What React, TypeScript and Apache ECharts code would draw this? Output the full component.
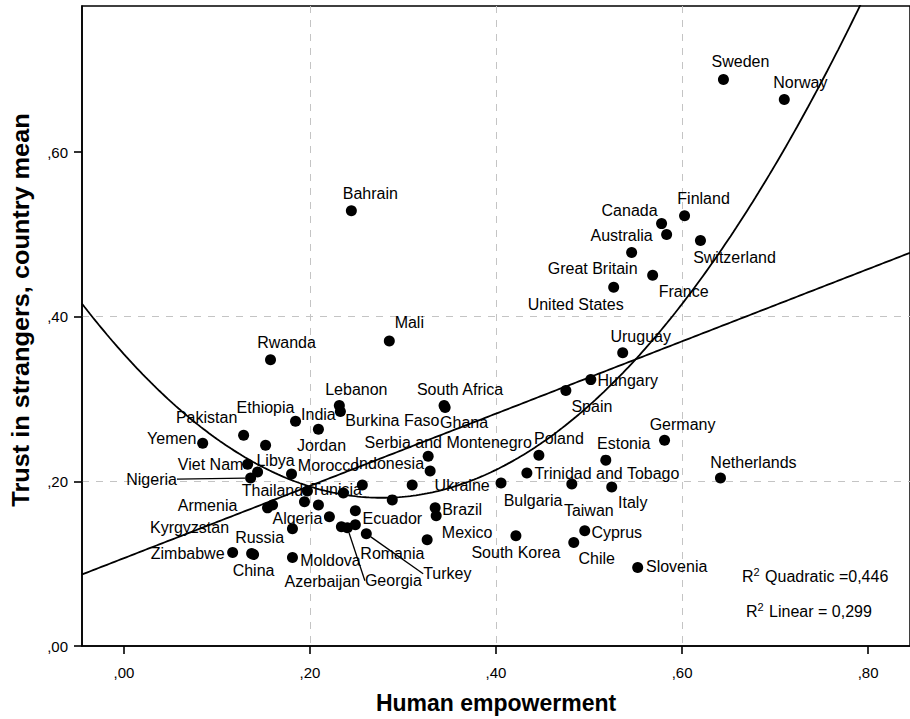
import React, { useEffect, useRef } from 'react';
import * as echarts from 'echarts';

// ---- data ----
const countries = [
  'Sweden', 'Norway', 'Bahrain', 'Finland', 'Canada', 'Australia', 'Switzerland', 'Great Britain',
  'France', 'United States', 'Uruguay', 'Hungary', 'Spain', 'Mali', 'Rwanda', 'Lebanon',
  'Burkina Faso', 'South Africa', 'Ghana', 'Ethiopia', 'India', 'Pakistan', 'Yemen', 'Jordan',
  'Viet Nam', 'Libya', 'Nigeria', 'Morocco', 'Tunisia', 'Thailand', 'Algeria', 'Ecuador',
  'Azerbaijan', 'Georgia', 'Romania', 'Turkey', 'Mexico', 'Brazil', 'Serbia and Montenegro', 'Ukraine',
  'Indonesia', 'Bulgaria', 'Poland', 'Trinidad and Tobago', 'Estonia', 'Germany', 'Netherlands', 'Taiwan',
  'Italy', 'Cyprus', 'Chile', 'South Korea', 'Slovenia', 'Armenia', 'Kyrgyzstan', 'Zimbabwe',
  'Russia', 'China', 'Moldova',
];
const empowerment = [
  0.6445, 0.7099, 0.2445, 0.6027, 0.5780, 0.5834, 0.6198, 0.5458,
  0.5684, 0.5265, 0.5362, 0.5019, 0.4751, 0.2853, 0.1576, 0.2316,
  0.2327, 0.3442, 0.3453, 0.1845, 0.2091, 0.1287, 0.0847, 0.1523,
  0.1330, 0.1437, 0.1362, 0.1802, 0.1973, 0.1941, 0.2209, 0.2488,
  0.2338, 0.2402, 0.2488, 0.2606, 0.3260, 0.3346, 0.3271, 0.3292,
  0.2563, 0.4054, 0.4461, 0.4332, 0.5180, 0.5812, 0.6413, 0.4815,
  0.5244, 0.4954, 0.4836, 0.4214, 0.5523, 0.1598, 0.1544, 0.1169,
  0.1373, 0.1394, 0.1812,
];
const trust = [
  0.6882, 0.6640, 0.5288, 0.5228, 0.5131, 0.4998, 0.4926, 0.4781,
  0.4503, 0.4358, 0.3562, 0.3236, 0.3103, 0.3706, 0.3477, 0.2922,
  0.2849, 0.2922, 0.2898, 0.2729, 0.2632, 0.2559, 0.2463, 0.2439,
  0.2209, 0.2113, 0.2040, 0.2089, 0.1883, 0.1751, 0.1569, 0.1642,
  0.1449, 0.1437, 0.1473, 0.1364, 0.1292, 0.1678, 0.2306, 0.2125,
  0.1956, 0.1980, 0.2318, 0.2101, 0.2258, 0.2499, 0.2040, 0.1968,
  0.1932, 0.1400, 0.1256, 0.1340, 0.0954, 0.1714, 0.1678, 0.1135,
  0.1123, 0.1111, 0.1074,
];
// points drawn without a label in the reference
const unlabeledEmpowerment = [0.2091, 0.2359, 0.2885, 0.3099, 0.1812, 0.3357];
const unlabeledTrust = [0.1714, 0.1859, 0.1775, 0.1956, 0.1425, 0.1582];

// fitted curves: coefficients of x^0, x^1, x^2
const linearFit = [0.1067, 0.439];
const quadraticFit = [0.3546, -1.2575, 2.265];
const rSquaredQuadratic = '0,446';
const rSquaredLinear = '0,299';

const xTicks = [0, 0.2, 0.4, 0.6, 0.8];
const yTicks = [0, 0.2, 0.4, 0.6];

const xTitle = 'Human empowerment';
const yTitle = 'Trust in strangers, country mean';

// ---- label placement (style): offset of label centre from point, px ----
const labelOffsets: Record<string, [number, number]> = {
  Sweden: [17, -18], Norway: [16, -17], Bahrain: [19, -17], Finland: [19, -17],
  Canada: [-32, -13], Australia: [-45, 1], Switzerland: [34, 17], 'Great Britain': [-39, 16],
  France: [31, 16], 'United States': [-38, 17], Uruguay: [18, -16], Hungary: [37, 1],
  Spain: [26, 16], Mali: [20, -18], Rwanda: [16, -17], Lebanon: [17, -16],
  'Burkina Faso': [52, 9], 'South Africa': [16, -16], Ghana: [19, 15], Ethiopia: [-30, -14],
  India: [0, -15], Pakistan: [-37, -18], Yemen: [-31, -5], Jordan: [56, 0],
  'Viet Nam': [-37, 0], Libya: [18, -12], Nigeria: [-99, 1], Morocco: [37, -9],
  Tunisia: [29, -1], Thailand: [-32, -11], Algeria: [-32, 2], Ecuador: [37, 8],
  Azerbaijan: [-19, 55], Georgia: [46, 53], Romania: [37, 29], Turkey: [81, 40],
  Mexico: [40, -7], Brazil: [27, 2], 'Serbia and Montenegro': [20, -14], Ukraine: [32, 14],
  Indonesia: [27, -21], Bulgaria: [32, 17], Poland: [20, -17], 'Trinidad and Tobago': [80, 0],
  Estonia: [18, -17], Germany: [18, -16], Netherlands: [33, -16], Taiwan: [17, 27],
  Italy: [21, 16], Cyprus: [32, 2], Chile: [23, 16], 'South Korea': [0, 17],
  Slovenia: [39, -1], Armenia: [-65, 1], Kyrgyzstan: [-78, 20], Zimbabwe: [-45, 1],
  Russia: [8, -16], China: [0, 16], Moldova: [38, 3],
};
const leaderLines = ['Nigeria', 'Georgia', 'Turkey'];

const X_MIN = -0.04504;
const X_MAX = 0.84504;
const Y_MIN = 0;
const Y_MAX = 0.77747;

const FONT = '"Liberation Sans", Arial, sans-serif';
const fmt = (v: number) => v.toFixed(2).replace(/^0/, '').replace('.', ',');

function curve(coef: number[]) {
  const pts: number[][] = [];
  const n = 300;
  for (let i = 0; i <= n; i++) {
    const x = X_MIN + ((X_MAX - X_MIN) * i) / n;
    let y = 0;
    coef.forEach((c, k) => { y += c * Math.pow(x, k); });
    pts.push([x, y]);
  }
  return pts;
}

export default function App() {
  const ref = useRef<HTMLDivElement>(null);
  useEffect(() => {
    if (!ref.current) return;
    const chart = echarts.init(ref.current, null, { renderer: 'svg' });
    const labeled = countries.map((name, i) => {
      const item: any = { name, value: [empowerment[i], trust[i]] };
      if (leaderLines.includes(name)) {
        item.labelLine = { show: true, lineStyle: { color: '#000', width: 1.3 } };
      }
      return item;
    });
    const unlabeled = unlabeledEmpowerment.map((x, i) => [x, unlabeledTrust[i]]);
    const supText = (label: string, val: string) => `{r|R}{s|2}{r| ${label}${val}}`;
    const rich = {
      r: { fontSize: 16, fontFamily: FONT, color: '#000' },
      s: { fontSize: 11, fontFamily: FONT, color: '#000', padding: [0, 1, 9, 0] },
    };
    const splitLine = {
      show: true, showMinLine: false, showMaxLine: false,
      lineStyle: { color: '#c4c4c4', type: [7, 7], width: 1 },
    };
    const axisLine = { show: true, onZero: false, lineStyle: { color: '#000', width: 1.6 } };
    chart.setOption({
      animation: false,
      backgroundColor: '#fff',
      grid: {
        left: 82, top: 6, width: 830, height: 644,
        show: true, borderColor: '#000', borderWidth: 1.5, backgroundColor: 'transparent',
      },
      xAxis: {
        type: 'value', min: X_MIN, max: X_MAX, splitNumber: 5,
        name: xTitle, nameLocation: 'middle', nameGap: 45,
        nameTextStyle: { fontFamily: FONT, fontSize: 23, fontWeight: 'bold', color: '#000' },
        axisLine,
        axisTick: { show: true, customValues: xTicks, length: 8, lineStyle: { color: '#000', width: 1.6 } },
        axisLabel: { customValues: xTicks, formatter: fmt, margin: 19, fontFamily: FONT, fontSize: 15, color: '#000' },
        splitLine,
      },
      yAxis: {
        type: 'value', min: Y_MIN, max: Y_MAX, splitNumber: 4,
        axisLine,
        axisTick: { show: true, customValues: yTicks, length: 8, lineStyle: { color: '#000', width: 1.6 } },
        axisLabel: { customValues: yTicks, formatter: fmt, margin: 14, fontFamily: FONT, fontSize: 15, color: '#000' },
        splitLine,
      },
      series: [
        {
          type: 'line', data: curve(linearFit), showSymbol: false, silent: true, clip: true, z: 2,
          lineStyle: { color: '#000', width: 1.8 },
        },
        {
          type: 'line', data: curve(quadraticFit), showSymbol: false, silent: true, clip: true, z: 2,
          lineStyle: { color: '#000', width: 1.8 },
        },
        {
          type: 'scatter', data: unlabeled, symbolSize: 11, z: 3,
          itemStyle: { color: '#000', opacity: 1 },
        },
        {
          type: 'scatter', data: labeled, symbolSize: 11, z: 4,
          itemStyle: { color: '#000', opacity: 1 },
          label: {
            show: true, position: 'inside', formatter: '{b}', align: 'center', verticalAlign: 'middle',
            fontFamily: FONT, fontSize: 16, color: '#000', textBorderWidth: 0,
          },
          labelLine: { show: false },
          labelLayout: (p: any) => {
            const off = labelOffsets[countries[p.dataIndex]] || [0, 0];
            return { dx: off[0], dy: off[1] };
          },
        },
      ],
      graphic: [
        {
          type: 'text', x: 21, y: 310, rotation: Math.PI / 2, scaleX: 1.1,
          style: { text: yTitle, fontFamily: FONT, fontSize: 23, fontWeight: 'bold', fill: '#000', align: 'center', verticalAlign: 'middle' },
        },
        { type: 'text', left: 742, top: 566, style: { text: supText('Quadratic =', rSquaredQuadratic), rich } },
        { type: 'text', left: 746, top: 601, style: { text: supText('Linear = ', rSquaredLinear), rich } },
      ],
    });
    return () => chart.dispose();
  }, []);
  return <div ref={ref} style={{ position: 'fixed', left: 0, top: 0, width: 910, height: 719 }} />;
}
